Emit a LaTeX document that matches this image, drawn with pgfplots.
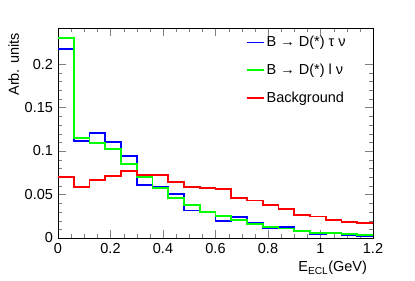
\documentclass[border=0pt]{standalone}
\usepackage{fontspec}
\setmainfont{Liberation Sans}
\usepackage{pgfplots}
\pgfplotsset{compat=1.18}
\usepackage{pgfplotstable}
\definecolor{hblue}{RGB}{0,0,255}
\definecolor{hgreen}{RGB}{0,255,0}
\definecolor{hred}{RGB}{255,0,0}
\pgfplotstableread{
x tau l bkg
0.00 0.2170 0.2302 0.0697
0.06 0.1115 0.1146 0.0586
0.12 0.1207 0.1088 0.0667
0.18 0.1100 0.1023 0.0713
0.24 0.0939 0.0847 0.0770
0.30 0.0610 0.0697 0.0724
0.36 0.0585 0.0575 0.0726
0.42 0.0510 0.0460 0.0640
0.48 0.0316 0.0383 0.0590
0.54 0.0300 0.0298 0.0573
0.60 0.0200 0.0255 0.0563
0.66 0.0240 0.0203 0.0460
0.72 0.0170 0.0160 0.0430
0.78 0.0110 0.0123 0.0377
0.84 0.0123 0.0110 0.0333
0.90 0.0084 0.0084 0.0262
0.96 0.0046 0.0061 0.0247
1.02 0.0057 0.0057 0.0210
1.08 0.0034 0.0046 0.0187
1.14 0.0023 0.0034 0.0175
1.20 0.0023 0.0034 0.0175
}\data
\begin{document}
\fontsize{14.5}{17}\selectfont
\begin{tikzpicture}
\path[use as bounding box] (0pt,0pt) rectangle (415pt,281pt);
\begin{axis}[
  at={(58pt,43pt)}, anchor=south west,
  width=315pt, height=210pt, scale only axis,
  xmin=0, xmax=1.2, ymin=0, ymax=0.2414,
  /pgf/number format/assume math mode=true,
  xtick={0,0.2,...,1.2}, ytick={0,0.05,0.1,0.15,0.2},
  minor x tick num=3, minor y tick num=4,
  tick pos=both, tick align=inside,
  major tick length=8pt, minor tick length=4pt,
  axis line style={line width=0.8pt},
  yticklabel style={/pgf/number format/fixed},
  xticklabel style={/pgf/number format/fixed},
  ylabel={Arb. units},
  every axis y label/.style={at={(axis description cs:0,1)}, xshift=-39pt, anchor=base east, rotate=90},
  xlabel={E\textsubscript{ECL}(GeV)},
  every axis x label/.style={at={(axis description cs:1,0)}, yshift=-34pt, xshift=-1pt, anchor=base east},
  legend style={draw=none, fill=none, at={(axis description cs:0.586,0.981)}, anchor=north west,
    row sep=11pt},
  legend cell align=left,
]
\addplot[const plot mark left, hblue, line width=1.8pt] table[x=x, y=tau] {\data};
\addlegendentry{B → D(*) τ ν}
\addplot[const plot mark left, hgreen, line width=1.8pt] table[x=x, y=l] {\data};
\addlegendentry{B → D(*) l ν}
\addplot[const plot mark left, hred, line width=1.8pt] table[x=x, y=bkg] {\data};
\addlegendentry{Background}
\end{axis}
\end{tikzpicture}
\end{document}
